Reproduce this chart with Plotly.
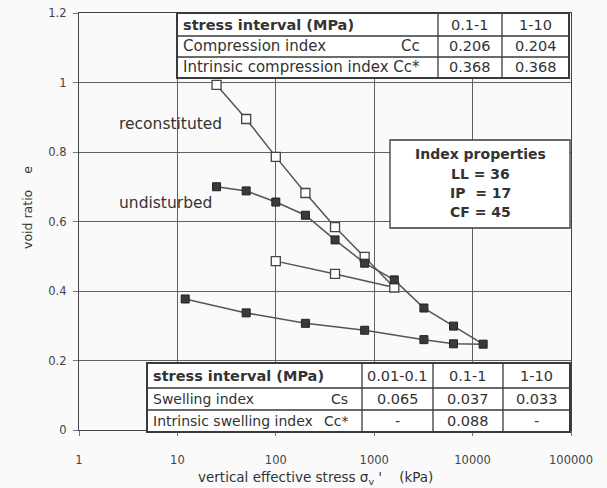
import plotly.graph_objects as go

# ---------------- data ----------------
recon_stress = [25, 50, 100, 200, 400, 800, 1600, 400, 100]
recon_e = [0.993, 0.895, 0.786, 0.682, 0.584, 0.498, 0.41, 0.449, 0.486]

undist_stress = [25, 50, 100, 200, 400, 800, 1600, 3200, 6400, 12800,
                 6400, 3200, 800, 200, 50, 12]
undist_e = [0.70, 0.688, 0.656, 0.618, 0.547, 0.48, 0.432, 0.351, 0.299, 0.247,
            0.248, 0.260, 0.287, 0.307, 0.337, 0.377]

x_tickvals = [1, 10, 100, 1000, 10000, 100000]
x_ticktext = ["1", "10", "100", "1000", "10000", "100000"]
y_tickvals = [0, 0.2, 0.4, 0.6, 0.8, 1.0, 1.2]
y_ticktext = ["0", "0.2", "0.4", "0.6", "0.8", "1", "1.2"]

x_title = "vertical effective stress σ<sub>v</sub> '    (kPa)"
y_title = "void ratio    e"

top_header = ["stress interval (MPa)", "0.1-1", "1-10"]
top_rows = [
    ["Compression index", "Cc", "0.206", "0.204"],
    ["Intrinsic compression index Cc*", "", "0.368", "0.368"],
]
bot_header = ["stress interval (MPa)", "0.01-0.1", "0.1-1", "1-10"]
bot_rows = [
    ["Swelling index", "Cs", "0.065", "0.037", "0.033"],
    ["Intrinsic swelling index", "Cc*", "-", "0.088", "-"],
]
index_props = ["Index properties", "LL = 36", "IP  = 17", "CF = 45"]

# ---------------- layout helpers ----------------
W, H = 607, 488
L, R, T, B = 79, 571, 13, 430          # plot area in window pixels
FONT = "DejaVu Sans, Verdana, sans-serif"
INK = "#333333"


def px(X):
    return (X - L) / (R - L)


def py(Y):
    return (B - Y) / (B - T)


shapes = []
annotations = []


def rect(x0, y0, x1, y1, width=1.5, fill="white"):
    shapes.append(dict(type="rect", xref="paper", yref="paper",
                       x0=px(x0), x1=px(x1), y0=py(y1), y1=py(y0),
                       line=dict(color="#3a3a3a", width=width),
                       fillcolor=fill, layer="above"))


def line(x0, y0, x1, y1, width=1.3):
    shapes.append(dict(type="line", xref="paper", yref="paper",
                       x0=px(x0), x1=px(x1), y0=py(y0), y1=py(y1),
                       line=dict(color="#3a3a3a", width=width), layer="above"))


def text(X, Y, s, anchor="center", bold=False, size=14.5, angle=0):
    if bold:
        s = "<b>" + s + "</b>"
    annotations.append(dict(xref="paper", yref="paper", x=px(X), y=py(Y),
                            text=s, showarrow=False, xanchor=anchor,
                            yanchor="middle", textangle=angle,
                            font=dict(family=FONT, size=size, color=INK)))


# top table
tcols = [177, 438, 502, 569]
trows = [13, 36, 57, 78]
rect(tcols[0], trows[0], tcols[-1], trows[-1], width=2)
for c in tcols[1:-1]:
    line(c, trows[0], c, trows[-1])
for r in trows[1:-1]:
    line(tcols[0], r, tcols[-1], r)
yc = [(trows[i] + trows[i + 1]) / 2 for i in range(3)]
text(tcols[0] + 4, yc[0], top_header[0], anchor="left", bold=True, size=14.5)
for j in range(2):
    text((tcols[j + 1] + tcols[j + 2]) / 2, yc[0], top_header[j + 1])
for i, row in enumerate(top_rows):
    text(tcols[0] + 4, yc[i + 1], row[0], anchor="left", size=15)
    if row[1]:
        text(tcols[1] - 16, yc[i + 1], row[1], anchor="right", size=15)
    for j in range(2):
        text((tcols[j + 1] + tcols[j + 2]) / 2, yc[i + 1], row[2 + j])

# bottom table
bcols = [147, 362, 433, 503, 570]
brows = [363, 388, 410, 432]
rect(bcols[0], brows[0], bcols[-1], brows[-1], width=2)
for c in bcols[1:-1]:
    line(c, brows[0], c, brows[-1])
for r in brows[1:-1]:
    line(bcols[0], r, bcols[-1], r)
yc = [(brows[i] + brows[i + 1]) / 2 for i in range(3)]
text(bcols[0] + 4, yc[0], bot_header[0], anchor="left", bold=True, size=14.5)
for j in range(3):
    text((bcols[j + 1] + bcols[j + 2]) / 2, yc[0], bot_header[j + 1])
for i, row in enumerate(bot_rows):
    text(bcols[0] + 4, yc[i + 1], row[0], anchor="left", size=14)
    if row[1]:
        text(bcols[1] - 12, yc[i + 1], row[1], anchor="right", size=14)
    for j in range(3):
        text((bcols[j + 1] + bcols[j + 2]) / 2, yc[i + 1], row[2 + j])

# index properties box
rect(390, 140, 570, 228, width=1.3)
for s, yy in zip(index_props, [154, 174, 193, 212]):
    text(480, yy, s, bold=True, size=14)

# curve labels
text(117, 124, "reconstituted", anchor="left", size=15.5)
text(117, 203, "undisturbed", anchor="left", size=15.5)

# axis titles
text(315, 478, x_title, size=13.5)
text(27, 208, y_title, size=12.5, angle=-90)

# ---------------- figure ----------------
fig = go.Figure()
fig.add_trace(go.Scatter(
    x=recon_stress, y=recon_e, mode="lines+markers", name="reconstituted",
    line=dict(color="#555555", width=1.5),
    marker=dict(symbol="square", size=9, color="white",
                line=dict(color="#444444", width=1.3)),
))
fig.add_trace(go.Scatter(
    x=undist_stress, y=undist_e, mode="lines+markers", name="undisturbed",
    line=dict(color="#555555", width=1.5),
    marker=dict(symbol="square", size=8, color="#3a3a3a",
                line=dict(color="#222222", width=1)),
))

fig.update_layout(
    width=W, height=H,
    margin=dict(l=L, r=W - R, t=T, b=H - B, autoexpand=False),
    paper_bgcolor="#fafafa", plot_bgcolor="#fafafa",
    showlegend=False,
    shapes=shapes, annotations=annotations,
    font=dict(family=FONT, color=INK),
)
fig.update_xaxes(
    type="log", range=[0, 5], automargin=False,
    tickvals=x_tickvals, ticktext=x_ticktext,
    showgrid=True, gridcolor="#606060", gridwidth=1,
    showline=True, linecolor="#444444", linewidth=1.3, mirror=True,
    ticks="outside", ticklen=5, tickcolor="#777777",
    ticklabelstandoff=14, ticklabeloverflow="allow",
    tickfont=dict(size=11.5, color="#444444"),
    zeroline=False,
)
fig.update_yaxes(
    range=[0, 1.2], automargin=False,
    tickvals=y_tickvals, ticktext=y_ticktext,
    showgrid=True, gridcolor="#606060", gridwidth=1,
    showline=True, linecolor="#444444", linewidth=1.3, mirror=True,
    ticks="outside", ticklen=5, tickcolor="#777777",
    ticklabelstandoff=4, ticklabeloverflow="allow",
    tickfont=dict(size=11.5, color="#444444"),
    zeroline=False,
)

# remove the default 8px page margin so the figure fills the window exactly
fig.write_html("out.html",
               config={"displayModeBar": False},
               post_script="document.body.style.margin='0px';")
